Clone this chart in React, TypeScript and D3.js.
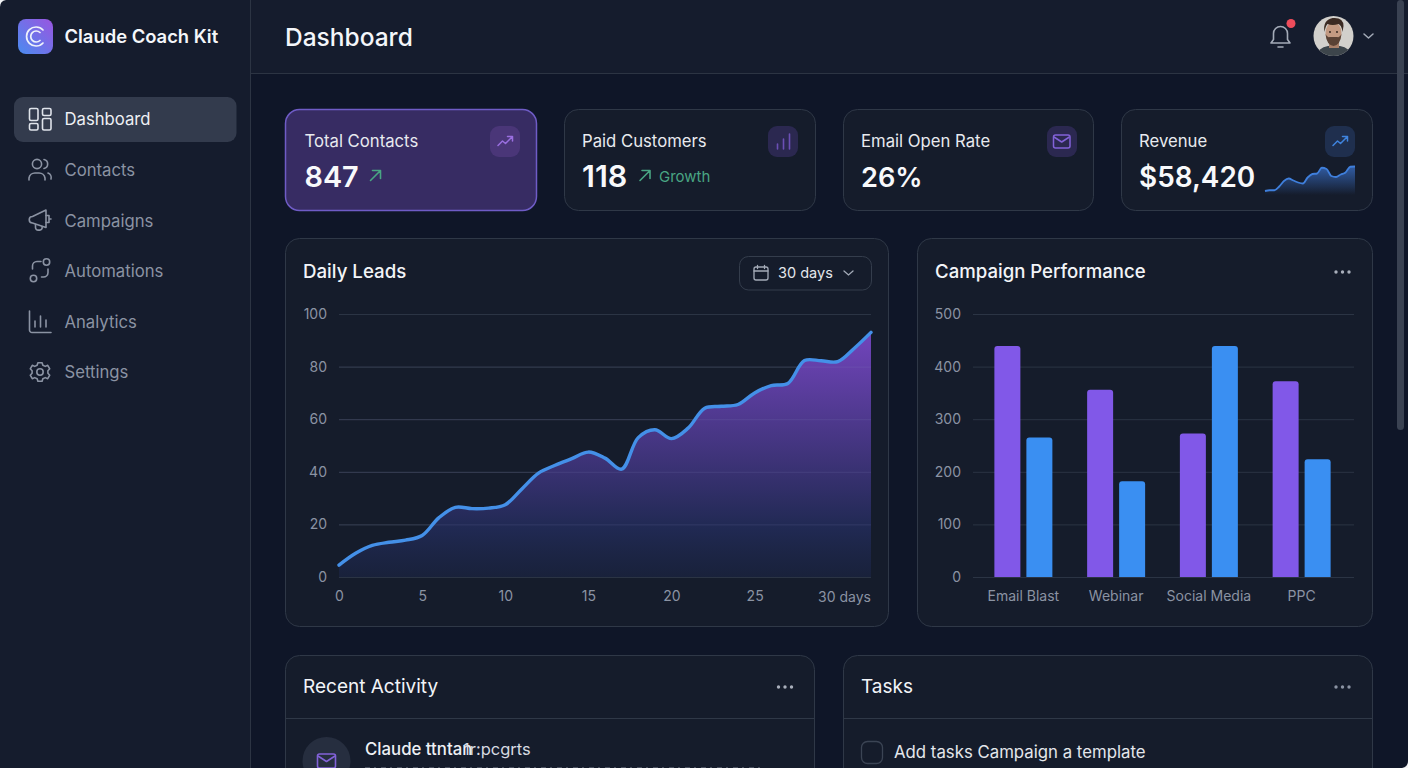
import React, { useEffect, useRef } from 'react';
import * as d3 from 'd3';

const FONT = 'Inter, "Noto Sans", sans-serif';

// Daily Leads, one value per day 0..32
const leadDays = d3.range(0, 33);
const leadValues = [4.5, 9, 12, 13.2, 14, 15.8, 22.5, 26.5, 26, 26.2, 27.5, 33.5, 39.5, 42.5, 45, 47.5, 45.2, 41, 53, 56, 52.6, 56.6, 64.2, 64.9, 65.6, 70, 72.8, 73.6, 82.3, 82.2, 81.9, 87, 93];
const leadTicksX = [0, 5, 10, 15, 20, 25];
const leadTicksY = [0, 20, 40, 60, 80, 100];

// Campaign Performance
const campaigns = ['Email Blast', 'Webinar', 'Social Media', 'PPC'];
const seriesNames = ['purple', 'blue'];
const purpleValues = [439, 356, 273, 372];
const blueValues = [265, 182, 439, 224];
const campaignTicksY = [0, 100, 200, 300, 400, 500];

// Revenue sparkline
const sparkValues = [2, 5, 5, 20, 42, 52, 44, 36, 32, 56, 70, 72, 95, 90, 62, 58, 68, 76, 99, 100];

const navItems = ['Dashboard', 'Contacts', 'Campaigns', 'Automations', 'Analytics', 'Settings'];
const navCentres = [119, 170, 220.5, 271, 322, 372];

const kpiLabels = ['Total Contacts', 'Paid Customers', 'Email Open Rate', 'Revenue'];
const kpiValues = ['847', '118', '26%', '$58,420'];
const kpiLefts = [285, 564, 843, 1121];
const kpiWidths = [252, 252, 251, 252];
const kpiFontSizes = [28.8, 30.5, 27.2, 27.9];

const PANEL = '#151c2b';
const BORDER = '#2f3847';
const GRID = '#2b3444';
const TICK = '#8b93a3';

const Panel = ({ x, y, w, h, r = 14 }: { x: number; y: number; w: number; h: number; r?: number }) => (
  <rect x={x + 0.5} y={y + 0.5} width={w - 1} height={h - 1} rx={r} fill={PANEL} stroke={BORDER} />
);

const Dots = ({ x, y, fill = '#a9afbb' }: { x: number; y: number; fill?: string }) => (
  <g fill={fill}>
    <circle cx={x - 6.5} cy={y} r={1.7} />
    <circle cx={x} cy={y} r={1.7} />
    <circle cx={x + 6.5} cy={y} r={1.7} />
  </g>
);

const NavIcon = ({ i, cy }: { i: number; cy: number }) => {
  const common = { fill: 'none', stroke: i === 0 ? '#dfe3ea' : '#8b93a3', strokeWidth: 1.6, strokeLinecap: 'round' as const, strokeLinejoin: 'round' as const };
  return (
    <g transform={`translate(40,${cy})`} {...common}>
      {i === 0 && (
        <>
          <rect x={-10.5} y={-10.5} width={8.5} height={12} rx={1.5} />
          <rect x={2.5} y={-10.5} width={8.5} height={7} rx={1.5} />
          <rect x={-10.5} y={4.5} width={8.5} height={6.5} rx={1.5} />
          <rect x={2.5} y={-0.5} width={8.5} height={11.5} rx={1.5} />
        </>
      )}
      {i === 1 && (
        <>
          <circle cx={-3} cy={-6} r={4.6} />
          <path d="M-11,10 v-2 a6,6 0 0 1 6,-5 h4 a6,6 0 0 1 6,5 v2" />
          <path d="M4,-10.5 a4.6,4.6 0 0 1 0,9" />
          <path d="M8,3 a5,5 0 0 1 3,6" />
        </>
      )}
      {i === 2 && (
        <>
          <path d="M-7.5,-4 L6,-10.5 V7 L-7.5,2.5 a3.2,3.2 0 0 1 0,-6.5 z" />
          <path d="M-4.5,4 v3 a2.6,2.6 0 0 0 2.6,2.6 h1.4 a2.5,2.5 0 0 0 2.5,-3.5" />
          <path d="M6,-5 h3 v7 h-3 M9,-1.5 h2" />
        </>
      )}
      {i === 3 && (
        <>
          <circle cx={6.5} cy={-9} r={3.2} />
          <circle cx={-6.5} cy={7.5} r={3.2} />
          <path d="M1,-9.5 h-4 a4.5,4.5 0 0 0 -4.5,4.5 v3" />
          <path d="M8,-2 v3.5 a4.5,4.5 0 0 1 -4.5,4.5 h-2" />
        </>
      )}
      {i === 4 && <path d="M-10.5,-11 v19 a2.5,2.5 0 0 0 2.5,2.5 h19 M-5,5 v-6 M0.5,5 v-11 M6,5 v-7" />}
      {i === 5 && (
        <g transform="scale(0.84)">
          <circle cx={0} cy={0} r={3.8} strokeWidth={1.9} />
          <path strokeWidth={1.9} d="M-2.5,-11 h5 l0.9,3 l2.9,1.3 l2.9,-1.3 l2.4,4.2 l-2.2,2.3 v3 l2.2,2.3 l-2.4,4.2 l-2.9,-1.3 l-2.9,1.3 l-0.9,3 h-5 l-0.9,-3 l-2.9,-1.3 l-2.9,1.3 l-2.4,-4.2 l2.2,-2.3 v-3 l-2.2,-2.3 l2.4,-4.2 l2.9,1.3 l2.9,-1.3 z" />
        </g>
      )}
    </g>
  );
};

const TrendIcon = ({ cx, cy, stroke }: { cx: number; cy: number; stroke: string }) => (
  <path
    transform={`translate(${cx},${cy})`}
    d="M-7,4.5 L-2.5,0 L0.5,2.5 L7,-4 M2.5,-4.5 H7.5 V0"
    fill="none"
    stroke={stroke}
    strokeWidth={1.5}
    strokeLinecap="round"
    strokeLinejoin="round"
  />
);

const Arrow = ({ cx, cy }: { cx: number; cy: number }) => (
  <path
    transform={`translate(${cx},${cy})`}
    d="M-5,5 L5,-5 M-3,-5 H5 V3"
    fill="none"
    stroke="#49a583"
    strokeWidth={1.6}
    strokeLinecap="round"
    strokeLinejoin="round"
  />
);

const Avatar = () => (
  <g>
    <clipPath id="avatar-clip">
      <circle cx={1333.5} cy={36} r={20} />
    </clipPath>
    <filter id="soft">
      <feGaussianBlur stdDeviation={0.6} />
    </filter>
    <g clipPath="url(#avatar-clip)">
      <rect x={1313} y={15} width={41} height={42} fill="#d2d0cc" />
      <g filter="url(#soft)">
        <path d="M1316,58 q2,-11 12,-12 h12 q10,1 12,12 z" fill="#3d444c" />
        <rect x={1329} y={40} width={10} height={8} fill="#a87f68" />
        <ellipse cx={1333.5} cy={33} rx={8} ry={11} fill="#c39a82" />
        <path d="M1325.5,34 q1,11 8,12 q7,-1 8,-12 q-2,4 -4,3 h-8 q-2,1 -4,-3 z" fill="#5a4336" />
        <circle cx={1330} cy={32} r={0.9} fill="#2a1d17" />
        <circle cx={1337} cy={32} r={0.9} fill="#2a1d17" />
        <path d="M1324.5,32 q-2,-12 8,-14 q11,-1 11,8 l-1,6 q-1,-7 -4,-8 q-6,2 -11,0 q-2,2 -3,8 z" fill="#3b2b22" />
      </g>
    </g>
  </g>
);

const App = () => {
  const leadsRef = useRef<SVGGElement>(null);
  const barsRef = useRef<SVGGElement>(null);

  const leadX = d3.scaleLinear().domain([0, 32]).range([339, 871]);
  const leadY = d3.scaleLinear().domain([0, 100]).range([577, 314]);
  const campaignX = d3.scaleBand<string>().domain(campaigns).range([977, 1348]);
  const campaignY = d3.scaleLinear().domain([0, 500]).range([577, 314]);
  const sparkX = d3.scaleLinear().domain([0, sparkValues.length - 1]).range([1265, 1355]);
  const sparkY = d3.scaleLinear().domain([0, 100]).range([191.5, 166.5]);

  const leadPoints = leadDays.map((d, i) => [d, leadValues[i]] as [number, number]);
  const leadLine = d3.line<[number, number]>().x(d => leadX(d[0])).y(d => leadY(d[1])).curve(d3.curveCatmullRom);
  const leadArea = d3.area<[number, number]>().x(d => leadX(d[0])).y0(leadY(0)).y1(d => leadY(d[1])).curve(d3.curveCatmullRom);

  const sparkLine = d3.line<number>().x((_, i) => sparkX(i)).y(d => sparkY(d)).curve(d3.curveMonotoneX);
  const sparkArea = d3.area<number>().x((_, i) => sparkX(i)).y0(195).y1(d => sparkY(d)).curve(d3.curveMonotoneX);

  useEffect(() => {
    document.body.style.margin = '0';
    document.body.style.background = '#0f1628';

    const styleAxis = (g: d3.Selection<SVGGElement, unknown, null, undefined>) => {
      g.select('.domain').remove();
      g.selectAll('text').attr('fill', TICK).attr('font-size', 14).attr('font-family', FONT);
    };

    // Daily leads axes
    const leads = d3.select(leadsRef.current!);
    leads.selectAll('*').remove();
    leads.append('g')
      .attr('transform', 'translate(339,0)')
      .call(d3.axisLeft(leadY).tickValues(leadTicksY).tickSize(-532).tickPadding(12))
      .call(styleAxis)
      .call(g => g.selectAll('line').attr('stroke', GRID));
    leads.append('g')
      .attr('transform', 'translate(0,577)')
      .call(d3.axisBottom(leadX).tickValues(leadTicksX).tickSize(0).tickPadding(14))
      .call(styleAxis);
    leads.append('text')
      .attr('x', 871).attr('y', 602)
      .attr('text-anchor', 'end')
      .attr('fill', TICK).attr('font-size', 14).attr('font-family', FONT)
      .text('30 days');

    // Campaign axes and bars
    const bars = d3.select(barsRef.current!);
    bars.selectAll('*').remove();
    bars.append('g')
      .attr('transform', 'translate(973,0)')
      .call(d3.axisLeft(campaignY).tickValues(campaignTicksY).tickSize(-381).tickPadding(12))
      .call(styleAxis)
      .call(g => g.selectAll('line').attr('stroke', GRID));
    bars.append('g')
      .attr('transform', 'translate(0,577)')
      .call(d3.axisBottom(campaignX).tickSize(0).tickPadding(14))
      .call(styleAxis);

    const inner = d3.scaleBand<string>().domain(seriesNames).range([-29, 29]).paddingInner(0.1875);
    const colours: Record<string, string> = { purple: '#8158e8', blue: '#3a8ff2' };
    const series: Record<string, number[]> = { purple: purpleValues, blue: blueValues };
    seriesNames.forEach(name => {
      bars.append('g')
        .selectAll('path')
        .data(campaigns)
        .join('path')
        .attr('fill', colours[name])
        .attr('d', (c, i) => {
          const x = campaignX(c)! + campaignX.bandwidth() / 2 + inner(name)!;
          const w = inner.bandwidth();
          const top = campaignY(series[name][i]);
          const r = 3;
          return `M${x},${campaignY(0)}V${top + r}Q${x},${top} ${x + r},${top}H${x + w - r}Q${x + w},${top} ${x + w},${top + r}V${campaignY(0)}Z`;
        });
    });
  }, []);

  return (
    <svg
      width={1408}
      height={768}
      viewBox="0 0 1408 768"
      style={{ position: 'absolute', left: 0, top: 0, display: 'block', fontFamily: FONT }}
    >
      <defs>
        <linearGradient id="logo-grad" x1="0" y1="1" x2="1" y2="0">
          <stop offset="0" stopColor="#4a8cf0" />
          <stop offset="1" stopColor="#9a55e0" />
        </linearGradient>
        <linearGradient id="lead-grad" gradientUnits="userSpaceOnUse" x1={0} y1={332} x2={0} y2={577}>
          <stop offset="0" stopColor="#7747c4" stopOpacity={0.95} />
          <stop offset="0.5" stopColor="#42357f" stopOpacity={0.95} />
          <stop offset="0.8" stopColor="#212a55" stopOpacity={0.95} />
          <stop offset="1" stopColor="#1a2340" stopOpacity={0.75} />
        </linearGradient>
        <linearGradient id="spark-grad" x1="0" y1="0" x2="0" y2="1">
          <stop offset="0" stopColor="#3d78d8" stopOpacity={0.7} />
          <stop offset="1" stopColor="#3d78d8" stopOpacity={0} />
        </linearGradient>
      </defs>

      <rect width={1408} height={768} fill="#0f1628" />

      {/* sidebar */}
      <rect width={250} height={768} fill="#151c2d" />
      <line x1={250.5} x2={250.5} y1={0} y2={768} stroke="#2c3443" />
      <rect x={18} y={19} width={35} height={35} rx={8} fill="url(#logo-grad)" />
      <path d="M43,30 a9.5,9.5 0 1 0 0,13" fill="none" stroke="#eef2fb" strokeWidth={1.7} strokeLinecap="round" />
      <path d="M40,32.5 a5.5,5.5 0 1 0 0,8" fill="none" stroke="#eef2fb" strokeWidth={1.7} strokeLinecap="round" />
      <text x={64.5} y={43} fill="#f4f6fa" fontSize={18.4} fontWeight={600}>Claude Coach Kit</text>

      <rect x={14} y={97} width={222.5} height={45} rx={9} fill="#333b4d" />
      {navItems.map((label, i) => (
        <g key={label}>
          <NavIcon i={i} cy={navCentres[i]} />
          <text x={64.5} y={navCentres[i] + 6} fontSize={16.7} fontWeight={400} fill={i === 0 ? '#eef0f4' : '#8b93a3'}>{label}</text>
        </g>
      ))}

      {/* header */}
      <rect x={251} width={1157} height={73} fill="#151c2d" />
      <line x1={251} x2={1408} y1={73.5} y2={73.5} stroke="#2c3443" />
      <text x={285} y={45.5} fill="#f4f6fa" fontSize={24.5} fontWeight={500}>Dashboard</text>
      <path
        d="M1271,43 h19 l-2.5,-3.5 v-6 a7,7 0 0 0 -14,0 v6 z M1278,47 h5"
        fill="none"
        stroke="#a4abb8"
        strokeWidth={1.6}
        strokeLinecap="round"
        strokeLinejoin="round"
      />
      <circle cx={1291} cy={23.5} r={4.5} fill="#ee4c5b" />
      <Avatar />
      <path d="M1364,34 l4.5,4 l4.5,-4" fill="none" stroke="#a4abb8" strokeWidth={1.5} strokeLinecap="round" strokeLinejoin="round" />

      {/* KPI cards */}
      {kpiLabels.map((label, i) => (
        <g key={label}>
          <rect
            x={kpiLefts[i] + 0.5}
            y={109.5}
            width={kpiWidths[i] - 1}
            height={101}
            rx={14}
            fill={i === 0 ? '#372c63' : PANEL}
            stroke={i === 0 ? '#6f5cc6' : BORDER}
            strokeWidth={i === 0 ? 1.5 : 1}
          />
          <text x={kpiLefts[i] + (i === 0 ? 19.5 : 18)} y={147} fontSize={16.7} fill="#e8eaef">{label}</text>
          <text x={kpiLefts[i] + (i === 0 ? 19.5 : 18)} y={187} fontSize={kpiFontSizes[i]} fontWeight={600} fill="#f8f9fb">
            {kpiValues[i]}
          </text>
        </g>
      ))}
      <rect x={490} y={126} width={30} height={31} rx={9} fill="#4a3678" />
      <TrendIcon cx={505} cy={141} stroke="#9a6fe0" />
      <Arrow cx={375.5} cy={175.5} />

      <rect x={768} y={126} width={30} height={31} rx={9} fill="#2b2850" />
      <path d="M777.5,150 v-5 M783.5,150 v-10 M789.5,150 v-15" transform="translate(0,-1)" fill="none" stroke="#6b4fb5" strokeWidth={1.6} strokeLinecap="round" />
      <Arrow cx={645} cy={175.5} />
      <text x={659} y={181.5} fontSize={15} fill="#49a583">Growth</text>

      <rect x={1047} y={126} width={30} height={31} rx={9} fill="#2b2850" />
      <rect x={1053.5} y={135} width={16.5} height={13} rx={2} fill="none" stroke="#8262d8" strokeWidth={1.5} />
      <path d="M1054,137 l7.7,5 l7.7,-5" fill="none" stroke="#8262d8" strokeWidth={1.5} strokeLinejoin="round" />

      <rect x={1325} y={126} width={30} height={31} rx={9} fill="#1f2f4e" />
      <TrendIcon cx={1340} cy={141} stroke="#3f84df" />
      <path d={sparkArea(sparkValues)!} fill="url(#spark-grad)" />
      <path d={sparkLine(sparkValues)!} fill="none" stroke="#3f7fdc" strokeWidth={1.8} />

      {/* Daily Leads */}
      <Panel x={285} y={238} w={604} h={389} />
      <text x={303} y={278} fontSize={18.7} fontWeight={500} fill="#f2f4f8">Daily Leads</text>
      <rect x={739.5} y={256.5} width={132} height={33.5} rx={9} fill="none" stroke="#343d4c" />
      <g fill="none" stroke="#a4abb8" strokeWidth={1.3} strokeLinecap="round">
        <rect x={754} y={267} width={14} height={13} rx={2} />
        <path d="M754,271 h14 M757.5,265.5 v3 M764.5,265.5 v3" />
        <path d="M844,271 l4.5,4 l4.5,-4" />
      </g>
      <text x={778} y={278} fontSize={14.5} fill="#e4e7ec">30 days</text>
      <g ref={leadsRef} />
      <path d={leadArea(leadPoints)!} fill="url(#lead-grad)" />
      {/* gridlines show faintly through the area */}
      <g stroke="#8a86b8" strokeOpacity={0.16}>
        {leadTicksY.slice(1, 5).map(t => (
          <line key={t} x1={339} x2={871} y1={leadY(t) + 0.5} y2={leadY(t) + 0.5} />
        ))}
      </g>
      <path d={leadLine(leadPoints)!} fill="none" stroke="#4490e8" strokeWidth={3.4} strokeLinecap="round" />

      {/* Campaign Performance */}
      <Panel x={917} y={238} w={456} h={389} />
      <text x={935} y={278} fontSize={18.6} fontWeight={500} fill="#f2f4f8">Campaign Performance</text>
      <Dots x={1342.5} y={272} />
      <g ref={barsRef} />

      {/* lower panels, cut off by the bottom of the page */}
      <Panel x={285} y={655} w={530} h={140} />
      <line x1={285} x2={815} y1={718.5} y2={718.5} stroke={BORDER} />
      <text x={303} y={693} fontSize={19} fill="#f2f4f8">Recent Activity</text>
      <Dots x={785} y={687} />
      <circle cx={326.5} cy={761} r={24} fill="#262e3f" />
      <rect x={317.5} y={754} width={18} height={14} rx={2} fill="none" stroke="#8262d8" strokeWidth={1.6} />
      <path d="M318,756 l8.5,5.5 l8.5,-5.5" fill="none" stroke="#8262d8" strokeWidth={1.6} strokeLinejoin="round" />
      {/* the garbled heading in the source is one line that runs over itself */}
      <text x={365} y={755} fontSize={16.8} fontWeight={500} fill="#eef0f4">
        Claude ttntan
        <tspan x={463} fontSize={16.5} fontWeight={400} fill="#d7dae1">1r:pcgrts</tspan>
      </text>
      <line x1={365} x2={765} y1={767.5} y2={767.5} stroke="#4b5261" strokeWidth={1.2} strokeDasharray="5 4 2 5" />

      <Panel x={843} y={655} w={530} h={140} />
      <line x1={843} x2={1373} y1={718.5} y2={718.5} stroke={BORDER} />
      <text x={861} y={693} fontSize={19} fill="#f2f4f8">Tasks</text>
      <Dots x={1342.5} y={687} fill="#8b93a3" />
      <rect x={861.5} y={741.5} width={21} height={22} rx={6} fill="none" stroke="#3b4454" strokeWidth={1.3} />
      <text x={894} y={758} fontSize={16.8} fill="#e4e7ec">Add tasks Campaign a template</text>

      {/* scrollbar and the picture's rounded corners */}
      <rect x={1397} y={0} width={7} height={430} rx={3.5} fill="#3a4252" />
      <path d="M0,0 H6 Q0,1 0,7 Z" fill="#f2f3f5" />
      <path d="M1408,768 H1402 Q1408,767 1408,761 Z" fill="#f2f3f5" />
    </svg>
  );
};

export default App;
